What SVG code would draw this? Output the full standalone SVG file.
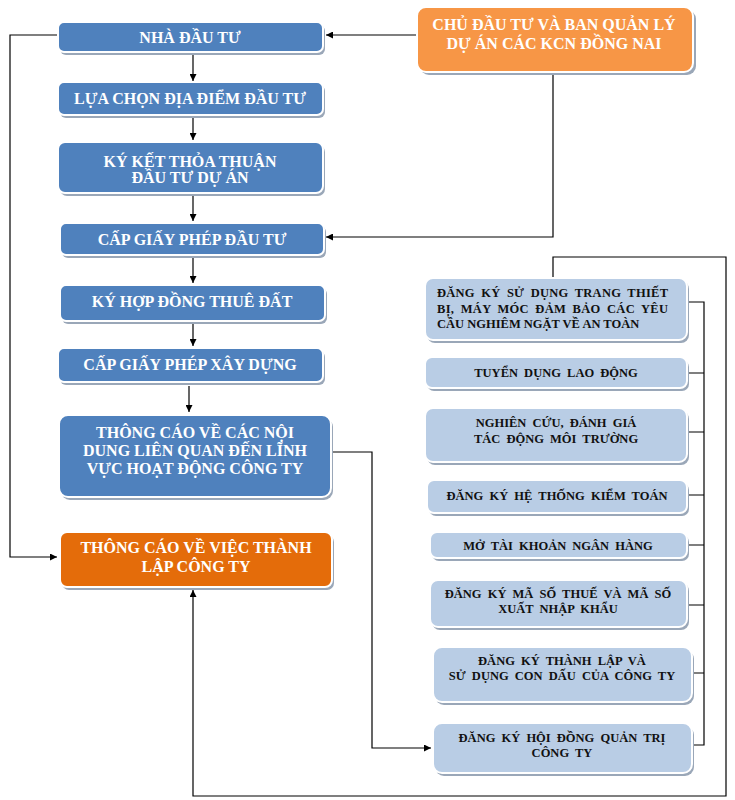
<svg xmlns="http://www.w3.org/2000/svg" width="735" height="800" viewBox="0 0 735 800">
<style>
  .sh { fill: #9aa7b8; }
  .blue { fill: #4F81BD; stroke: #ffffff; stroke-width: 2; }
  .lblue { fill: #B9CDE5; stroke: #ffffff; stroke-width: 2; }
  .orL { fill: #F79646; stroke: #ffffff; stroke-width: 2; }
  .orD { fill: #E46C0A; stroke: #ffffff; stroke-width: 2; }
  .wt { font-family: "Liberation Serif", "Times New Roman", serif; font-weight: bold; font-size: 16px; fill: #ffffff; text-anchor: middle; }
  .bt { font-family: "Liberation Serif", "Times New Roman", serif; font-weight: bold; font-size: 12.5px; fill: #111111; text-anchor: middle; word-spacing: 3px; }
  .ln { fill: none; stroke: #000000; stroke-width: 1.2; }
</style>
<defs>
  <marker id="ah" viewBox="0 0 10 10" refX="10" refY="5" markerWidth="7" markerHeight="7" markerUnits="userSpaceOnUse" orient="auto">
    <path d="M0,0 L10,5 L0,10 Z" fill="#000000"/>
  </marker>
</defs>
<rect width="735" height="800" fill="#ffffff"/>

<g id="connectors">
  <path class="ln" d="M417,35 H326" marker-end="url(#ah)"/>
  <path class="ln" d="M553,70 V237 H326" marker-end="url(#ah)"/>
  <path class="ln" d="M58,35 H10 V557 H57" marker-end="url(#ah)"/>
  <path class="ln" d="M193,55 V81" marker-end="url(#ah)"/>
  <path class="ln" d="M193,117 V140" marker-end="url(#ah)"/>
  <path class="ln" d="M193,196 V221" marker-end="url(#ah)"/>
  <path class="ln" d="M193,258 V283" marker-end="url(#ah)"/>
  <path class="ln" d="M193,324 V346" marker-end="url(#ah)"/>
  <path class="ln" d="M189,386 V412" marker-end="url(#ah)"/>
  <path class="ln" d="M331,452 H372 V748 H431" marker-end="url(#ah)"/>
  <path class="ln" d="M687,302 H704 V745 H692 M687,373 H704 M687,432 H704 M687,495 H704 M687,545 H704 M687,605 H704 M692,673 H704"/>
  <path class="ln" d="M553,277 V257 H726 V796 H193 V590" marker-end="url(#ah)"/>
</g>

<g id="n-orange-top">
  <rect class="sh" x="420" y="10" width="276" height="65" rx="9"/>
  <rect class="orL" x="417" y="7" width="276" height="65" rx="9"/>
  <text class="wt" x="554" y="30">CHỦ ĐẦU TƯ VÀ BAN QUẢN LÝ</text>
  <text class="wt" x="554" y="49">DỰ ÁN CÁC KCN ĐỒNG NAI</text>
</g>

<g id="n1">
  <rect class="sh" x="60" y="25" width="265" height="30" rx="6"/>
  <rect class="blue" x="58" y="22" width="265" height="30" rx="6"/>
  <text class="wt" x="190" y="43">NHÀ ĐẦU TƯ</text>
</g>
<g id="n2">
  <rect class="sh" x="60" y="85" width="265" height="33" rx="6"/>
  <rect class="blue" x="58" y="82" width="265" height="33" rx="6"/>
  <text class="wt" x="190" y="104">LỰA CHỌN ĐỊA ĐIỂM ĐẦU TƯ</text>
</g>
<g id="n3">
  <rect class="sh" x="60" y="145" width="265" height="51" rx="7"/>
  <rect class="blue" x="58" y="142" width="265" height="51" rx="7"/>
  <text class="wt" x="190" y="167">KÝ KẾT THỎA THUẬN</text>
  <text class="wt" x="190" y="183">ĐẦU TƯ DỰ ÁN</text>
</g>
<g id="n4">
  <rect class="sh" x="62" y="226" width="264" height="32" rx="6"/>
  <rect class="blue" x="60" y="223" width="264" height="32" rx="6"/>
  <text class="wt" x="192" y="245">CẤP GIẤY PHÉP ĐẦU TƯ</text>
</g>
<g id="n5">
  <rect class="sh" x="62" y="288" width="265" height="36" rx="6"/>
  <rect class="blue" x="60" y="285" width="265" height="36" rx="6"/>
  <text class="wt" x="192" y="307">KÝ HỢP ĐỒNG THUÊ ĐẤT</text>
</g>
<g id="n6">
  <rect class="sh" x="60" y="351" width="265" height="34" rx="6"/>
  <rect class="blue" x="58" y="348" width="265" height="34" rx="6"/>
  <text class="wt" x="190" y="370">CẤP GIẤY PHÉP XÂY DỰNG</text>
</g>
<g id="n7">
  <rect class="sh" x="61" y="418" width="272" height="82" rx="9"/>
  <rect class="blue" x="59" y="415" width="272" height="82" rx="9"/>
  <text class="wt" x="195" y="438">THÔNG CÁO VỀ CÁC NỘI</text>
  <text class="wt" x="195" y="456">DUNG LIÊN QUAN ĐẾN LĨNH</text>
  <text class="wt" x="195" y="474">VỰC HOẠT ĐỘNG CÔNG TY</text>
</g>
<g id="n8">
  <rect class="sh" x="62" y="535" width="272" height="55" rx="7"/>
  <rect class="orD" x="60" y="532" width="272" height="55" rx="7"/>
  <text class="wt" x="196" y="553">THÔNG CÁO VỀ VIỆC THÀNH</text>
  <text class="wt" x="196" y="572">LẬP CÔNG TY</text>
</g>

<g id="r1">
  <rect class="sh" x="427" y="281" width="262" height="62" rx="8"/>
  <rect class="lblue" x="425" y="278" width="262" height="62" rx="8"/>
  <text class="bt" x="437" y="297" style="text-anchor:start" textLength="231" lengthAdjust="spacing">ĐĂNG KÝ SỬ DỤNG TRANG THIẾT</text>
  <text class="bt" x="437" y="313" style="text-anchor:start" textLength="231" lengthAdjust="spacing">BỊ, MÁY MÓC ĐẢM BẢO CÁC YÊU</text>
  <text class="bt" x="437" y="328" style="text-anchor:start;word-spacing:0px">CẦU NGHIÊM NGẶT VỀ AN TOÀN</text>
</g>
<g id="r2">
  <rect class="sh" x="427" y="360" width="262" height="31" rx="7"/>
  <rect class="lblue" x="425" y="357" width="262" height="31" rx="7"/>
  <text class="bt" x="556" y="377">TUYỂN DỤNG LAO ĐỘNG</text>
</g>
<g id="r3">
  <rect class="sh" x="427" y="411" width="262" height="54" rx="8"/>
  <rect class="lblue" x="425" y="408" width="262" height="54" rx="8"/>
  <text class="bt" x="556" y="427">NGHIÊN CỨU, ĐÁNH GIÁ</text>
  <text class="bt" x="556" y="443">TÁC ĐỘNG MÔI TRƯỜNG</text>
</g>
<g id="r4">
  <rect class="sh" x="429" y="483" width="260" height="33" rx="7"/>
  <rect class="lblue" x="427" y="480" width="260" height="33" rx="7"/>
  <text class="bt" x="557" y="500">ĐĂNG KÝ HỆ THỐNG KIỂM TOÁN</text>
</g>
<g id="r5">
  <rect class="sh" x="432" y="535" width="257" height="26" rx="7"/>
  <rect class="lblue" x="430" y="532" width="257" height="26" rx="7"/>
  <text class="bt" x="558" y="550">MỞ TÀI KHOẢN NGÂN HÀNG</text>
</g>
<g id="r6">
  <rect class="sh" x="432" y="583" width="257" height="47" rx="8"/>
  <rect class="lblue" x="430" y="580" width="257" height="47" rx="8"/>
  <text class="bt" x="558" y="598">ĐĂNG KÝ MÃ SỐ THUẾ VÀ MÃ SỐ</text>
  <text class="bt" x="558" y="613">XUẤT NHẬP KHẨU</text>
</g>
<g id="r7">
  <rect class="sh" x="435" y="650" width="259" height="55" rx="9"/>
  <rect class="lblue" x="433" y="647" width="259" height="55" rx="9"/>
  <text class="bt" x="562" y="665">ĐĂNG KÝ THÀNH LẬP VÀ</text>
  <text class="bt" x="562" y="680">SỬ DỤNG CON DẤU CỦA CÔNG TY</text>
</g>
<g id="r8">
  <rect class="sh" x="435" y="726" width="259" height="50" rx="9"/>
  <rect class="lblue" x="433" y="723" width="259" height="50" rx="9"/>
  <text class="bt" x="562" y="742">ĐĂNG KÝ HỘI ĐỒNG QUẢN TRỊ</text>
  <text class="bt" x="562" y="757">CÔNG TY</text>
</g>
</svg>
